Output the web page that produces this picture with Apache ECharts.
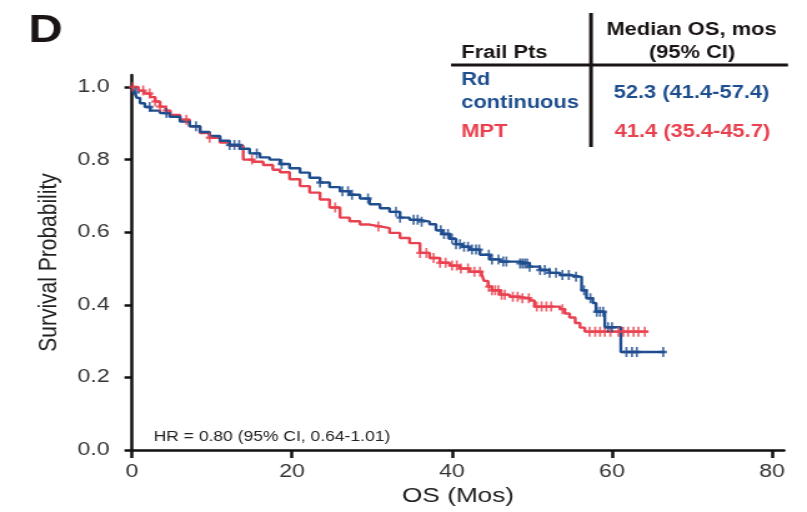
<!DOCTYPE html>
<html>
<head>
<meta charset="utf-8">
<script src="https://cdn.jsdelivr.net/npm/echarts@6/dist/echarts.min.js"></script>
<style>
  html, body { margin: 0; padding: 0; background: #ffffff; overflow: hidden; }
  #wrap { width: 807px; height: 512px; overflow: hidden; }
  #chart { width: 646px; height: 512px; transform: scaleX(1.249226); transform-origin: 0 0; }
</style>
</head>
<body>
<div id="wrap"><div id="chart"></div></div>
<script>
// ---------------- data ----------------
const xTicks = [0, 20, 40, 60, 80];
const yTicks = [0, 0.2, 0.4, 0.6, 0.8, 1.0];

// Rd continuous: KM step points (months, survival probability)
const rdTime = [0, 0.3, 0.6, 1.0, 1.6, 2.3, 3.5, 4.7, 6.0, 7.2, 8.5, 9.7, 11.0, 12.2, 13.5, 14.7, 16.0, 17.2, 18.5, 19.7, 21.0, 22.2, 23.5, 24.7, 26.0, 27.2, 28.5, 29.7, 31.0, 32.2, 33.5, 34.7, 36.0, 37.2, 38.0, 38.8, 39.7, 40.5, 41.3, 42.2, 43.5, 44.7, 46.0, 48.5, 49.7, 51.0, 52.2, 53.5, 54.7, 56.2, 56.8, 57.6, 58.0, 59.1, 61.1, 66.6];
const rdSurv = [1.0, 0.985, 0.97, 0.955, 0.945, 0.935, 0.928, 0.918, 0.905, 0.892, 0.876, 0.865, 0.852, 0.84, 0.83, 0.817, 0.806, 0.8, 0.788, 0.776, 0.764, 0.75, 0.737, 0.724, 0.713, 0.703, 0.693, 0.677, 0.666, 0.656, 0.64, 0.634, 0.629, 0.622, 0.605, 0.595, 0.582, 0.567, 0.56, 0.552, 0.538, 0.525, 0.519, 0.514, 0.505, 0.496, 0.488, 0.482, 0.477, 0.44, 0.418, 0.405, 0.381, 0.338, 0.27, 0.27];
const rdCensor = [0.5, 2.2, 4.3, 8.0, 12.2, 12.8, 13.4, 15.6, 18.7, 23.5, 26.3, 27.0, 27.5, 29.5, 33.0, 33.5, 35.2, 35.7, 36.2, 38.6, 39.0, 39.5, 40.0, 40.5, 41.0, 41.5, 42.0, 42.5, 43.0, 43.4, 44.6, 45.0, 45.8, 46.4, 46.8, 48.5, 48.8, 49.1, 49.4, 49.7, 51.0, 51.6, 52.2, 53.0, 53.8, 54.6, 55.5, 56.5, 57.3, 58.1, 58.5, 58.9, 59.5, 60.0, 61.8, 62.5, 63.1, 66.4];

// MPT: KM step points
const mptTime = [0, 0.8, 1.5, 2.3, 2.9, 3.5, 4.2, 4.8, 6.0, 7.2, 8.5, 9.7, 11.0, 12.2, 13.9, 15.1, 16.4, 17.6, 18.5, 19.7, 21.0, 22.2, 23.5, 24.7, 26.0, 27.2, 28.5, 29.7, 31.0, 32.2, 33.5, 34.7, 36.0, 37.2, 38.5, 39.7, 41.0, 42.2, 43.7, 44.0, 44.5, 45.0, 46.0, 47.2, 48.5, 49.7, 50.3, 53.5, 54.1, 54.7, 55.4, 56.0, 56.6, 64.5];
const mptSurv = [1.0, 0.99, 0.982, 0.972, 0.96, 0.946, 0.935, 0.923, 0.91, 0.892, 0.873, 0.86, 0.847, 0.838, 0.8, 0.794, 0.785, 0.772, 0.765, 0.746, 0.727, 0.709, 0.69, 0.668, 0.64, 0.63, 0.621, 0.616, 0.611, 0.598, 0.584, 0.57, 0.543, 0.529, 0.516, 0.508, 0.5, 0.491, 0.485, 0.466, 0.45, 0.44, 0.428, 0.422, 0.418, 0.412, 0.395, 0.388, 0.376, 0.365, 0.35, 0.337, 0.326, 0.326];
const mptCensor = [0.1, 1.4, 2.2, 2.9, 3.5, 4.3, 6.8, 9.7, 15.0, 25.4, 30.8, 36.0, 36.8, 37.7, 38.5, 39.2, 40.0, 40.6, 41.1, 42.0, 42.8, 43.5, 44.6, 45.0, 45.4, 45.8, 46.2, 46.6, 47.6, 48.2, 48.8, 49.6, 50.6, 51.2, 51.8, 52.4, 53.8, 57.2, 57.9, 58.5, 59.1, 59.8, 60.8, 61.4, 62.0, 62.7, 63.3, 64.1];

const tableHeader = ['Frail Pts', 'Median OS, mos', '(95% CI)'];
const armNames = ['Rd', 'continuous', 'MPT'];
const medians = ['52.3 (41.4-57.4)', '41.4 (35.4-45.7)'];
const hrText = 'HR = 0.80 (95% CI, 0.64-1.01)';

// ---------------- helpers ----------------
const BLUE = '#1f4e8f';
const RED = '#e8414f';
const INK = '#1a1414';
const FF = '"Liberation Sans", Arial, Helvetica, sans-serif';
const S = 807 / 646;              // horizontal stretch of the reference picture
const px = v => v / S;            // picture x -> chart x

function stepPairs(t, s) { return t.map((v, i) => [v, s[i]]); }
function survAt(t, s, x) {
  let k = 0;
  for (let i = 0; i < t.length; i++) { if (t[i] <= x) k = i; }
  return s[k];
}
function censorPairs(c, t, s) { return c.map(x => [x, survAt(t, s, x)]); }

const PLUS = 'path://M36,0H64V38H100V62H64V100H36V62H0V38H36Z';

function txt(x, y, text, font, fill, align) {
  return {
    type: 'text', x: x, y: y, silent: true,
    style: { text: text, font: font, fill: fill,
      textAlign: align, align: align, textVerticalAlign: 'middle', verticalAlign: 'middle' }
  };
}

const chart = echarts.init(document.getElementById('chart'), null, { renderer: 'canvas' });
const option = {
  animation: false,
  backgroundColor: '#ffffff',
  textStyle: { fontFamily: FF },
  grid: { left: px(132), right: px(807 - 784), top: 75, bottom: 62, containLabel: false },
  xAxis: {
    type: 'value', min: 0, max: 81.5, interval: 20,
    name: 'OS (Mos)', nameLocation: 'middle', nameGap: 34,
    nameTextStyle: { fontSize: 21, color: '#222', fontFamily: FF },
    axisLine: { show: true, onZero: false, lineStyle: { color: '#111', width: 2.5 } },
    axisTick: { show: true, length: 8, inside: false, customValues: xTicks, lineStyle: { color: '#111', width: 2.5 } },
    axisLabel: { customValues: xTicks, fontSize: 18.5, color: '#333', margin: 12, fontFamily: FF,
      formatter: v => String(v) },
    splitLine: { show: false }
  },
  yAxis: {
    type: 'value', min: 0, max: 1.033, interval: 0.2,
    name: 'Survival Probability', nameLocation: 'middle', nameGap: 56,
    nameTextStyle: { fontSize: 21, color: '#222', fontFamily: FF },
    axisLine: { show: true, onZero: false, lineStyle: { color: '#111', width: 2.5 } },
    axisTick: { show: true, length: 6, inside: false, customValues: yTicks, lineStyle: { color: '#111', width: 2.5 } },
    axisLabel: { customValues: yTicks, fontSize: 18.5, color: '#333', margin: 18, fontFamily: FF,
      formatter: v => Number(v).toFixed(1) },
    splitLine: { show: false }
  },
  series: [
    { name: 'MPT', type: 'line', step: 'end', data: stepPairs(mptTime, mptSurv),
      showSymbol: false, symbol: 'none', z: 2,
      lineStyle: { color: RED, width: 2.4 } },
    { name: 'Rd continuous', type: 'line', step: 'end', data: stepPairs(rdTime, rdSurv),
      showSymbol: false, symbol: 'none', z: 3,
      lineStyle: { color: BLUE, width: 2.4 } },
    { name: 'MPT censored', type: 'scatter', data: censorPairs(mptCensor, mptTime, mptSurv),
      symbol: PLUS, symbolSize: [6, 10], z: 4, itemStyle: { color: RED } },
    { name: 'Rd censored', type: 'scatter', data: censorPairs(rdCensor, rdTime, rdSurv),
      symbol: PLUS, symbolSize: [6, 10], z: 5, itemStyle: { color: BLUE } }
  ],
  graphic: [
    txt(px(28.4), 31.5, 'D', 'bold 38px ' + FF, INK, 'left'),
    txt(px(461.2), 53, tableHeader[0], 'bold 17.5px ' + FF, INK, 'left'),
    txt(px(691.5), 30, tableHeader[1], 'bold 17.5px ' + FF, INK, 'center'),
    txt(px(692), 53.5, tableHeader[2], 'bold 17.5px ' + FF, INK, 'center'),
    txt(px(461.2), 80, armNames[0], 'bold 17.5px ' + FF, BLUE, 'left'),
    txt(px(461.2), 103.5, armNames[1], 'bold 17.5px ' + FF, BLUE, 'left'),
    txt(px(461.2), 132.5, armNames[2], 'bold 17.5px ' + FF, RED, 'left'),
    txt(px(691.5), 93.5, medians[0], 'bold 17.5px ' + FF, BLUE, 'center'),
    txt(px(692.4), 132.5, medians[1], 'bold 17.5px ' + FF, RED, 'center'),
    { type: 'line', silent: true, shape: { x1: px(451), y1: 65, x2: px(788), y2: 65 },
      style: { stroke: INK, lineWidth: 3 } },
    { type: 'line', silent: true, shape: { x1: px(591), y1: 13, x2: px(591), y2: 147 },
      style: { stroke: INK, lineWidth: 3 } },
    txt(px(153.6), 437, hrText, '14px ' + FF, '#222', 'left')
  ]
};
chart.setOption(option);
</script>
</body>
</html>
